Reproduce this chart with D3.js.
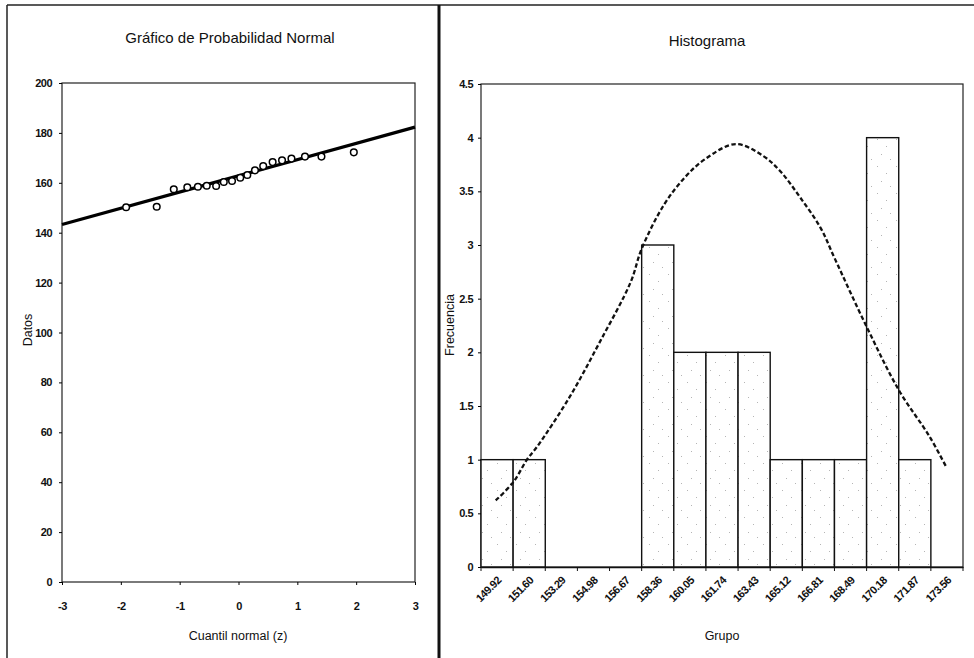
<!DOCTYPE html>
<html lang="es">
<head>
    <meta charset="UTF-8">
    <title>Gráfico de probabilidad e histograma</title>
    <script src="https://d3js.org/d3.v7.min.js"></script>
    <style>
    body { margin: 0; background: #fff; }
    text { font-family: "Liberation Sans", Arial, sans-serif; fill: #111; }
    .tick text { font-weight: bold; font-size: 11px; letter-spacing: -0.5px; }
    .titulo { font-size: 15px; }
    .etiqueta { font-size: 12.5px; }
    </style>
</head>
<body>
    <div id="container1"></div>
    <script>
    // ---- datos del gráfico de probabilidad normal ----
    var cuantiles = [-1.91, -1.39, -1.10, -0.87, -0.69, -0.54, -0.38, -0.25, -0.11, 0.03,
        0.15, 0.28, 0.42, 0.58, 0.74, 0.90, 1.13, 1.41, 1.96];
    var datos = [150.2, 150.4, 157.4, 158.2, 158.4, 158.8, 158.7, 160.3, 160.7, 162.0,
        163.1, 165.0, 166.7, 168.3, 169.0, 169.7, 170.5, 170.5, 172.2];
    // recta de referencia
    var rectaZ = [-3, 3];
    var rectaY = [143.3, 182.3];
    var ticksZ = [-3, -2, -1, 0, 1, 2, 3];
    var ticksDatos = [0, 20, 40, 60, 80, 100, 120, 140, 160, 180, 200];

    // ---- datos del histograma ----
    var grupos = ["149.92", "151.60", "153.29", "154.98", "156.67", "158.36", "160.05",
        "161.74", "163.43", "165.12", "166.81", "168.49", "170.18", "171.87", "173.56"];
    var frecuencias = [1, 1, 0, 0, 0, 3, 2, 2, 2, 1, 1, 1, 4, 1, 0];
    // curva normal
    var curvaX = [149.85, 150.77, 151.49, 152.02, 153.72, 155.33, 156.93, 157.53, 158.71, 159.79,
        160.85, 162.46, 163.90, 164.79, 165.86, 166.92, 167.65, 169.39, 171.06, 172.63, 173.53];
    var curvaY = [0.62, 0.79, 1.0, 1.12, 1.58, 2.10, 2.65, 2.97, 3.38, 3.63,
        3.80, 3.94, 3.83, 3.69, 3.44, 3.16, 2.88, 2.22, 1.64, 1.22, 0.93];
    var ticksFrec = [0, 0.5, 1, 1.5, 2, 2.5, 3, 3.5, 4, 4.5];

    var svg = d3.select("#container1")
        .append("svg")
        .attr("width", 974)
        .attr("height", 658);

    // marco de la hoja
    svg.append("line").attr("x1", 7).attr("x2", 974).attr("y1", 5).attr("y2", 5)
        .attr("stroke", "#222").attr("stroke-width", 1.5);
    svg.append("line").attr("x1", 7).attr("x2", 7).attr("y1", 5).attr("y2", 658)
        .attr("stroke", "#222").attr("stroke-width", 1.5);
    svg.append("line").attr("x1", 439).attr("x2", 439).attr("y1", 5).attr("y2", 658)
        .attr("stroke", "#111").attr("stroke-width", 3);

    var fmt = d => String(d);

    // ================= Gráfico de Probabilidad Normal =================
    var x = d3.scaleLinear().domain([-3, 3]).range([62, 415]);
    var y = d3.scaleLinear().domain([0, 200]).range([582, 83]);

    var g1 = svg.append("g");

    g1.append("rect")
        .attr("x", x(-3)).attr("y", y(200))
        .attr("width", x(3) - x(-3)).attr("height", y(0) - y(200))
        .attr("fill", "none").attr("stroke", "#222").attr("stroke-width", 1.2);

    g1.append("g")
        .attr("transform", "translate(" + x(-3) + ",0)")
        .call(d3.axisLeft(y).tickValues(ticksDatos).tickFormat(fmt).tickSize(3).tickPadding(7))
        .call(g => g.select(".domain").remove());

    g1.append("g")
        .attr("transform", "translate(0," + y(0) + ")")
        .call(d3.axisBottom(x).tickValues(ticksZ).tickFormat(fmt).tickSize(3).tickPadding(17))
        .call(g => g.select(".domain").remove());

    g1.append("line")
        .attr("x1", x(rectaZ[0])).attr("y1", y(rectaY[0]))
        .attr("x2", x(rectaZ[1])).attr("y2", y(rectaY[1]))
        .attr("stroke", "#000").attr("stroke-width", 3.2);

    g1.append("g")
        .selectAll("circle")
        .data(cuantiles)
        .enter()
        .append("circle")
        .attr("cx", d => x(d))
        .attr("cy", (d, i) => y(datos[i]))
        .attr("r", 3.3)
        .attr("fill", "#fff")
        .attr("stroke", "#000")
        .attr("stroke-width", 1.5);

    g1.append("text").attr("class", "titulo")
        .attr("x", 230).attr("y", 43).attr("text-anchor", "middle")
        .text("Gráfico de Probabilidad Normal");
    g1.append("text").attr("class", "etiqueta")
        .attr("x", 238).attr("y", 640).attr("text-anchor", "middle")
        .text("Cuantil normal (z)");
    g1.append("text").attr("class", "etiqueta")
        .attr("transform", "translate(32,330) rotate(-90)").attr("text-anchor", "middle")
        .text("Datos");

    // ================= Histograma =================
    var xb = d3.scaleBand().domain(grupos).range([481, 963]).padding(0);
    var yb = d3.scaleLinear().domain([0, 4.5]).range([567, 84]);
    var bw = xb.bandwidth();
    // eje continuo para la curva, centrado en cada categoría
    var xc = d3.scaleLinear()
        .domain([+grupos[0], +grupos[grupos.length - 1]])
        .range([xb(grupos[0]) + bw / 2, xb(grupos[grupos.length - 1]) + bw / 2]);

    var g2 = svg.append("g");

    // trama punteada de las barras
    var patron = svg.append("defs").append("pattern")
        .attr("id", "punteado").attr("patternUnits", "userSpaceOnUse")
        .attr("width", 19).attr("height", 27);
    patron.append("rect").attr("width", 19).attr("height", 27).attr("fill", "#fff");
    [[3, 4], [12, 11], [7, 19], [16, 24]].forEach(p => {
        patron.append("rect").attr("x", p[0]).attr("y", p[1])
            .attr("width", 1).attr("height", 1).attr("fill", "#b5b5b5");
    });

    g2.append("rect")
        .attr("x", 481).attr("y", yb(4.5))
        .attr("width", 963 - 481).attr("height", yb(0) - yb(4.5))
        .attr("fill", "none").attr("stroke", "#222").attr("stroke-width", 1.2);

    g2.append("g")
        .selectAll("rect")
        .data(grupos.filter((d, i) => frecuencias[i] > 0))
        .enter()
        .append("rect")
        .attr("x", d => xb(d))
        .attr("y", d => yb(frecuencias[grupos.indexOf(d)]))
        .attr("height", d => yb(0) - yb(frecuencias[grupos.indexOf(d)]))
        .attr("width", bw)
        .attr("fill", "url(#punteado)")
        .attr("stroke", "#111")
        .attr("stroke-width", 1.4);

    g2.append("g")
        .attr("transform", "translate(481,0)")
        .call(d3.axisLeft(yb).tickValues(ticksFrec).tickFormat(fmt).tickSize(3).tickPadding(5))
        .call(g => g.select(".domain").remove());

    // eje de categorías: marcas en los límites, etiquetas giradas en el centro
    var ejeX = g2.append("g")
        .attr("transform", "translate(0," + yb(0) + ")")
        .call(d3.axisBottom(xb).tickSize(0).tickPadding(0))
        .call(g => g.select(".domain").attr("stroke", "#111").attr("stroke-width", 1.4));
    ejeX.selectAll(".tick text")
        .attr("y", 0).attr("dy", 0)
        .attr("text-anchor", "end")
        .attr("transform", "translate(5,14) rotate(-45)");
    ejeX.selectAll(".limite")
        .data(grupos.concat(["fin"]))
        .enter()
        .append("line")
        .attr("class", "limite")
        .attr("x1", d => d === "fin" ? 963 : xb(d))
        .attr("x2", d => d === "fin" ? 963 : xb(d))
        .attr("y1", 0).attr("y2", 4)
        .attr("stroke", "#111");

    var linea = d3.line()
        .x(d => xc(d))
        .y((d, i) => yb(curvaY[i]))
        .curve(d3.curveCatmullRom);

    g2.append("path")
        .datum(curvaX)
        .attr("d", linea)
        .attr("fill", "none")
        .attr("stroke", "#111")
        .attr("stroke-width", 2.3)
        .attr("stroke-dasharray", "4.5,2.5");

    g2.append("text").attr("class", "titulo")
        .attr("x", 707).attr("y", 46).attr("text-anchor", "middle")
        .text("Histograma");
    g2.append("text").attr("class", "etiqueta")
        .attr("x", 722).attr("y", 640).attr("text-anchor", "middle")
        .text("Grupo");
    g2.append("text").attr("class", "etiqueta")
        .attr("transform", "translate(454,325) rotate(-90)").attr("text-anchor", "middle")
        .text("Frecuencia");
    </script>
</body>
</html>
